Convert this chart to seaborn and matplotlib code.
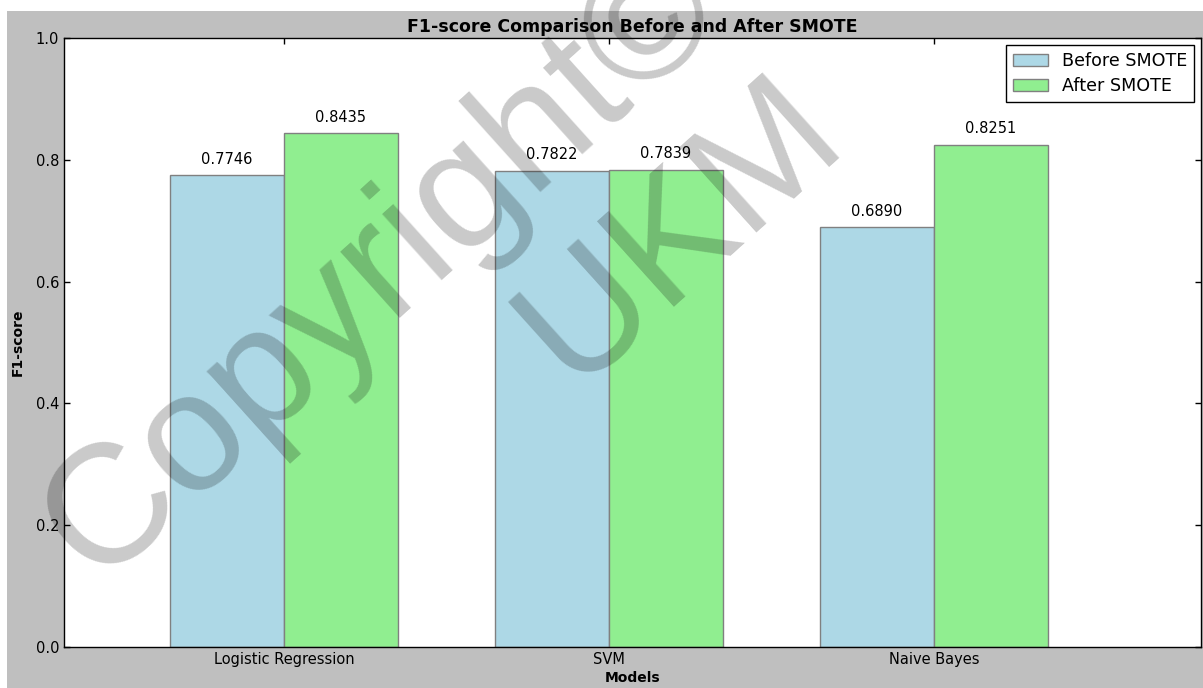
import matplotlib
matplotlib.use("Agg")
import matplotlib.pyplot as plt
import pandas as pd
import seaborn as sns
from matplotlib.patches import Rectangle

models = ["Logistic Regression", "SVM", "Naive Bayes"]
before_smote = [0.7746, 0.7822, 0.6890]
after_smote = [0.8435, 0.7839, 0.8251]
series = ["Before SMOTE", "After SMOTE"]
colors = ["lightblue", "lightgreen"]

df = pd.DataFrame({
    "Models": models * 2,
    "F1-score": before_smote + after_smote,
    "Stage": [series[0]] * len(models) + [series[1]] * len(models),
})

sns.set_style("ticks")
plt.rcParams["font.family"] = ["DejaVu Sans"]
plt.rcParams["text.color"] = "black"
plt.rcParams["axes.labelcolor"] = "black"
plt.rcParams["xtick.color"] = "black"
plt.rcParams["ytick.color"] = "black"

fig = plt.figure(figsize=(12.03, 6.88), dpi=100, facecolor="white")
# grey figure background, offset like the reference crop
fig.patches.append(Rectangle((7 / 1203, 0), 1, 1 - 11 / 688, transform=fig.transFigure,
                             facecolor="#bfbfbf", edgecolor="none", zorder=-10))
ax = fig.add_axes([64 / 1203, 1 - 647 / 688, (1201 - 64) / 1203, (647 - 38) / 688])
ax.set_facecolor("white")

sns.barplot(data=df, x="Models", y="F1-score", hue="Stage", palette=colors,
            width=0.7, edgecolor="gray", linewidth=1, saturation=1, ax=ax)

for container in ax.containers:
    ax.bar_label(container, fmt="%.4f", padding=6, fontsize=10.5)

ax.set_xlim(-0.677, 2.822)
ax.set_ylim(0, 1.0)
ax.set_yticks([0.0, 0.2, 0.4, 0.6, 0.8, 1.0])
ax.tick_params(direction="in", top=True, right=True, labelsize=10.5, length=4, width=1)
for s in ax.spines.values():
    s.set_linewidth(1)
    s.set_color("black")

ax.set_title("F1-score Comparison Before and After SMOTE", fontsize=12.5,
             fontweight="bold", pad=4)
ax.set_xlabel("Models", fontsize=10, fontweight="bold", labelpad=3)
ax.set_ylabel("F1-score", fontsize=10, fontweight="bold", labelpad=8)

leg = ax.legend(loc="upper right", fontsize=12.6, frameon=True, fancybox=False,
                edgecolor="black", framealpha=1, borderaxespad=0.4,
                handlelength=2.0, handleheight=0.7, labelspacing=0.4)
leg.get_frame().set_linewidth(1)

# watermark
wm = dict(family=["Liberation Sans", "DejaVu Sans"], rotation_mode="anchor",
          ha="left", va="baseline", color="black", alpha=0.21, zorder=20)
fig.text(96 / 1203, 1 - 584 / 688, "Copyright\u00a9", fontsize=122, rotation=42, **wm)
fig.text(572 / 1203, 1 - 388 / 688, "UKM", fontsize=120, rotation=42, **wm)

fig.savefig("out.png", dpi=100, facecolor=fig.get_facecolor())
